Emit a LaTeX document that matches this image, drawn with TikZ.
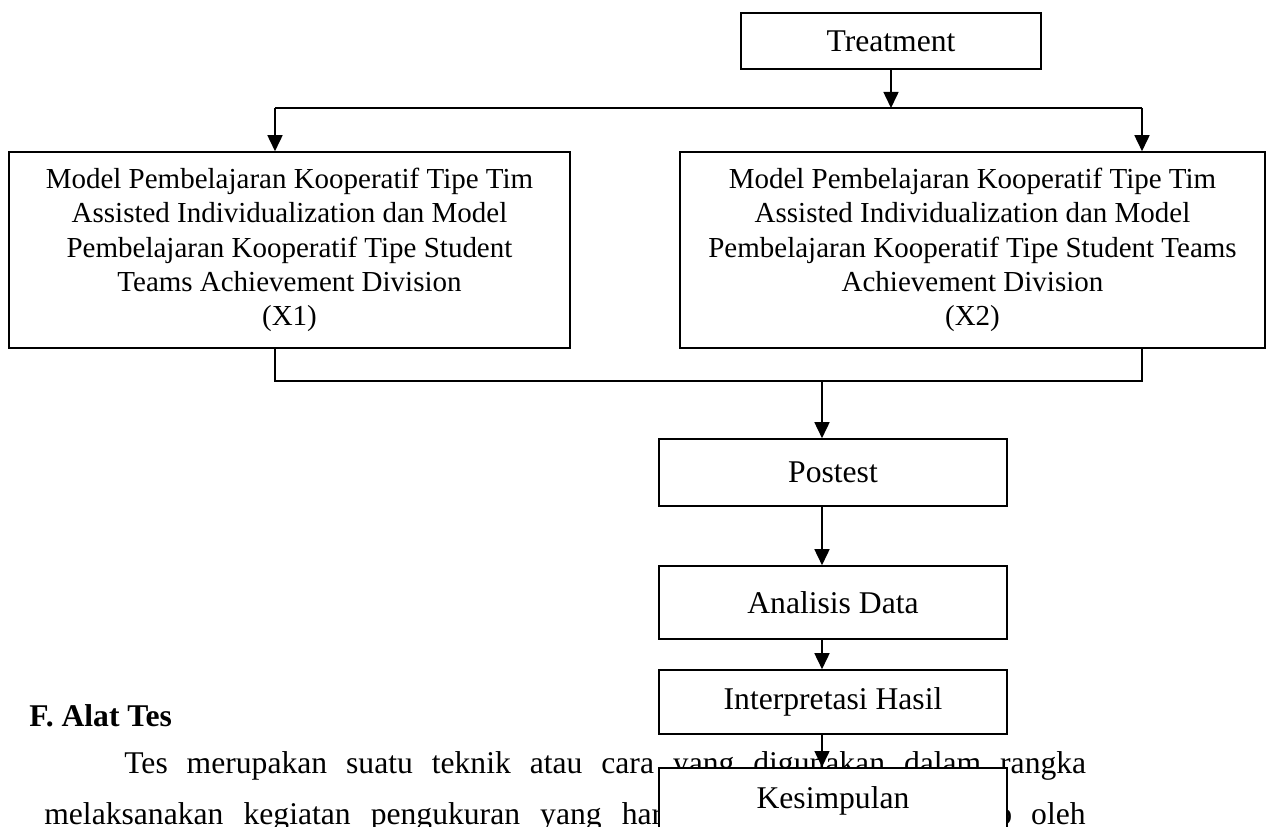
\documentclass[tikz,border=0pt]{standalone}
\usepackage{fontspec}
\setmainfont{Liberation Serif}
\usetikzlibrary{arrows.meta, positioning}
\newcommand\hurufbesar{\fontsize{16.5}{19.6}\selectfont}
\newcommand\hurufbiasa{\fontsize{18}{21}\selectfont}

\begin{document}
\begin{tikzpicture}[x=0.02cm, y=-0.02cm,
  kotak/.style={draw, line width=0.9pt, fill=white, align=center, inner sep=0pt, minimum width=6.96cm, font=\hurufbiasa},
  kotakbesar/.style={draw, line width=0.9pt, fill=white, align=center, inner sep=0pt, minimum height=3.92cm, font=\hurufbesar},
  panah/.style={line width=0.9pt, -{Triangle[length=0.32cm, width=0.3cm]}},
  garis/.style={line width=0.9pt},
  teks/.style={anchor=base west, inner sep=0pt, font=\hurufbiasa}]
\useasboundingbox (0,0) rectangle (1268,827);
\clip (0,0) rectangle (1268,827);

\node[teks, font=\hurufbiasa\bfseries] (judul) at (29,726) {F. Alat Tes};
\node[teks] (baris1) at (124,773) {\makebox[19.24cm][s]{Tes merupakan suatu teknik atau cara yang digunakan dalam rangka}};
\node[teks] (baris2) at (44,824) {\makebox[12.92cm][s]{melaksanakan kegiatan pengukuran yang harus}};
\node[teks, anchor=base east] (baris2b) at (1086,824) {dijawab\hspace{0.38cm}oleh};

\node[kotak, minimum width=6cm, minimum height=1.12cm] (treat) at (891,41) {Treatment};
\node[kotakbesar, minimum width=11.22cm] (xsatu) at (289.5,250) {Model Pembelajaran Kooperatif Tipe Tim\\Assisted Individualization dan Model\\Pembelajaran Kooperatif Tipe Student\\Teams Achievement Division\\(X1)};
\node[kotakbesar, minimum width=11.7cm] (xdua) at (972.5,250) {Model Pembelajaran Kooperatif Tipe Tim\\Assisted Individualization dan Model\\Pembelajaran Kooperatif Tipe Student Teams\\Achievement Division\\(X2)};
\node[kotak, minimum height=1.34cm] (post) at (833,472.5) {Postest};
\node[kotak, minimum height=1.46cm] (analisis) at (833,602.5) {Analisis Data};
\node[kotak, minimum height=1.28cm] (interp) at (833,702) {Interpretasi Hasil};
\node[kotak, anchor=north, inner ysep=0.2cm, text height=0.62cm, text depth=1cm] (simpul) at (833,767) {Kesimpulan};

\coordinate (cabang1) at (275,108);
\coordinate (cabang2) at (1142,108);
\coordinate (gabung1) at (275,381);
\coordinate (gabung2) at (1142,381);
\coordinate (tengah) at (822,381);

\draw[panah] (treat.south) -- (treat.south |- cabang1);
\draw[garis] (cabang1) -- (cabang2);
\draw[panah] (cabang1) -- (cabang1 |- xsatu.north);
\draw[panah] (cabang2) -- (cabang2 |- xdua.north);
\draw[garis] (gabung1 |- xsatu.south) -- (gabung1) -- (gabung2) -- (gabung2 |- xdua.south);
\draw[panah] (tengah) -- (tengah |- post.north);
\draw[panah] (tengah |- post.south) -- (tengah |- analisis.north);
\draw[panah] (tengah |- analisis.south) -- (tengah |- interp.north);
\draw[panah] (tengah |- interp.south) -- (tengah |- simpul.north);
\end{tikzpicture}
\end{document}
